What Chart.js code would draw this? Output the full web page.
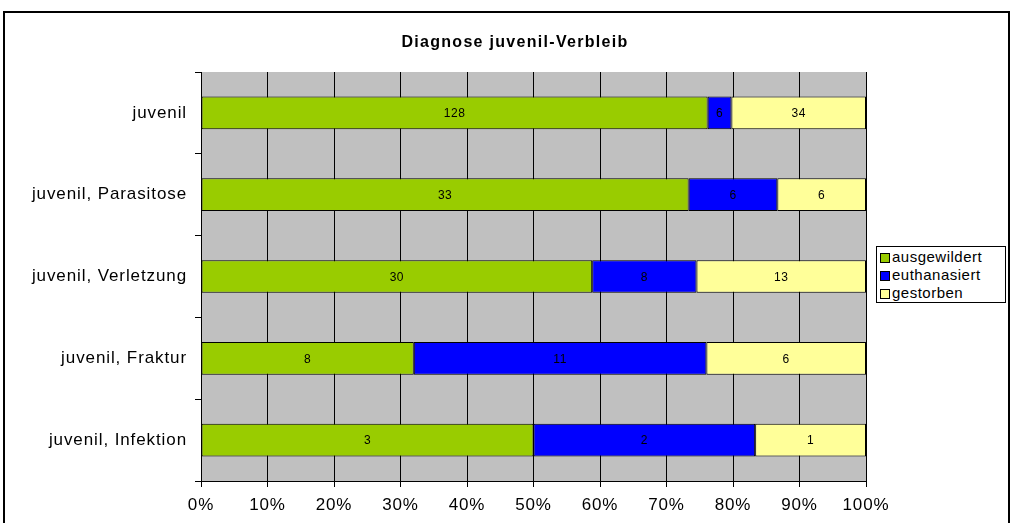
<!DOCTYPE html>
<html>
<head>
<meta charset="utf-8">
<script src="https://cdn.jsdelivr.net/npm/chart.js@4"></script>
<style>
  html, body { margin: 0; padding: 0; background: #fff; overflow: hidden; }
  #frame { position: absolute; left: 3px; top: 11px; width: 1003px; height: 560px; border: 2px solid #000; }
  #wrap { position: absolute; left: 0; top: 0; width: 1011px; height: 523px; }
  #legend { position: absolute; left: 876px; top: 246px; width: 128px; height: 55px; border: 1px solid #000; background: #fff;
            font: 15px "Liberation Sans", Arial, sans-serif; letter-spacing: 0.5px; color: #000; }
  #legend div { height: 16px; line-height: 16px; margin-top: 2px; white-space: nowrap; }
  #legend span { display: inline-block; width: 8px; height: 8px; border: 1px solid #000; margin: 0 2px 0 3px; vertical-align: -1px; }
</style>
</head>
<body>
<div id="frame"></div>
<div id="wrap"><canvas id="myChart" width="1011" height="523"></canvas></div>
<div id="legend"></div>
<script>
// Kategorien und Werte
var categories = ['juvenil', 'juvenil, Parasitose', 'juvenil, Verletzung', 'juvenil, Fraktur', 'juvenil, Infektion'];
var ausgewildert = [128, 33, 30, 8, 3];
var euthanasiert = [6, 6, 8, 11, 2];
var gestorben = [34, 6, 13, 6, 1];
var xTicks = [0, 10, 20, 30, 40, 50, 60, 70, 80, 90, 100];

var seriesNames = ['ausgewildert', 'euthanasiert', 'gestorben'];
var seriesColors = ['#99CC00', '#0000FF', '#FFFF99'];
var rawSeries = [ausgewildert, euthanasiert, gestorben];

var FONT = '"Liberation Sans", Arial, sans-serif';

// Summen pro Kategorie -> Prozent
var totals = categories.map(function (c, i) {
  return ausgewildert[i] + euthanasiert[i] + gestorben[i];
});

var datasets = rawSeries.map(function (vals, s) {
  return {
    label: seriesNames[s],
    raw: vals,
    data: vals.map(function (v, i) { return v / totals[i] * 100; }),
    backgroundColor: seriesColors[s],
    borderColor: '#000',
    borderWidth: 1,
    borderSkipped: false,
    categoryPercentage: 1.0,
    barPercentage: 0.4
  };
});

// etwas breitere Schrift wie im Original
var spacing = {
  id: 'spacing',
  beforeLayout: function (chart) { chart.ctx.letterSpacing = '0.9px'; },
  beforeDraw: function (chart) { chart.ctx.letterSpacing = '0.9px'; }
};

// Hintergrund der Zeichenfläche + Titel
var plotBg = {
  id: 'plotBg',
  beforeDraw: function (chart) {
    var a = chart.chartArea, c = chart.ctx;
    c.save();
    c.fillStyle = '#C0C0C0';
    c.fillRect(a.left, a.top, a.right - a.left, a.bottom - a.top);
    c.fillStyle = '#000';
    c.letterSpacing = '1.3px';
    c.font = 'bold 16px ' + FONT;
    c.textAlign = 'center';
    c.textBaseline = 'middle';
    c.fillText('Diagnose juvenil-Verbleib', 515, 43);
    c.restore();
  }
};

// Werte in den Balken
var valueLabels = {
  id: 'valueLabels',
  afterDatasetsDraw: function (chart) {
    var c = chart.ctx;
    c.save();
    c.fillStyle = '#000';
    c.letterSpacing = '0.5px';
    c.font = '12px ' + FONT;
    c.textAlign = 'center';
    c.textBaseline = 'middle';
    chart.data.datasets.forEach(function (ds, d) {
      chart.getDatasetMeta(d).data.forEach(function (bar, i) {
        var x = (bar.x + bar.base) / 2;
        c.fillText(String(ds.raw[i]), x, bar.y + 1);
      });
    });
    c.restore();
  }
};

var ctx = document.getElementById('myChart');
var chart = new Chart(ctx, {
  type: 'bar',
  data: { labels: categories, datasets: datasets },
  options: {
    indexAxis: 'y',
    responsive: false,
    animation: false,
    layout: { padding: { top: 72, right: 145, left: 0, bottom: 0 } },
    plugins: {
      legend: { display: false },
      tooltip: { enabled: false }
    },
    scales: {
      x: {
        stacked: true,
        min: 0,
        max: 100,
        afterBuildTicks: function (axis) {
          axis.ticks = xTicks.map(function (v) { return { value: v }; });
        },
        afterFit: function (axis) { axis.height = 42; },
        ticks: {
          color: '#000',
          padding: 8,
          maxRotation: 0,
          font: { size: 17, family: FONT },
          callback: function (v) { return v + '%'; }
        },
        grid: { color: '#000', lineWidth: 1, tickLength: 6, drawTicks: true },
        border: { color: '#000', width: 1 }
      },
      y: {
        stacked: true,
        afterFit: function (axis) { axis.width = 201; },
        ticks: {
          color: '#000',
          padding: 8,
          font: { size: 17, family: FONT }
        },
        grid: { color: '#000', drawOnChartArea: false, tickLength: 6, offset: true },
        border: { color: '#000', width: 1 }
      }
    }
  },
  plugins: [spacing, plotBg, valueLabels]
});

// Legende
var leg = document.getElementById('legend');
seriesNames.forEach(function (n, s) {
  var row = document.createElement('div');
  var box = document.createElement('span');
  box.style.background = seriesColors[s];
  row.appendChild(box);
  row.appendChild(document.createTextNode(n));
  leg.appendChild(row);
});
</script>
</body>
</html>
